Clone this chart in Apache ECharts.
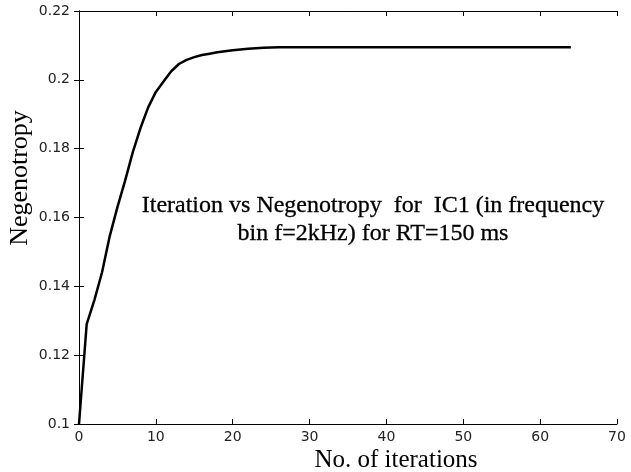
<!DOCTYPE html>
<html>
<head>
<meta charset="utf-8">
<script src="https://cdn.jsdelivr.net/npm/echarts@6/dist/echarts.min.js"></script>
<style>
  html, body { margin: 0; padding: 0; background: #fff; }
  #chart { width: 631px; height: 472px; }
</style>
</head>
<body>
<div id="chart"></div>
<script>
const iterations = [];
for (let i = 0; i <= 64; i++) iterations.push(i);

const negentropy = [
  0.1000, 0.1290, 0.1360, 0.1441, 0.1546, 0.1630, 0.1707, 0.1790, 0.1860, 0.1920,
  0.1965, 0.1995, 0.2025, 0.2046, 0.2058, 0.2066, 0.2072, 0.2076, 0.2080, 0.2083,
  0.2086, 0.2088, 0.2090, 0.2092, 0.2093, 0.2094, 0.2095, 0.2095, 0.2095, 0.2095,
  0.2095, 0.2095, 0.2095, 0.2095, 0.2095, 0.2095, 0.2095, 0.2095, 0.2095, 0.2095,
  0.2095, 0.2095, 0.2095, 0.2095, 0.2095, 0.2095, 0.2095, 0.2095, 0.2095, 0.2095,
  0.2095, 0.2095, 0.2095, 0.2095, 0.2095, 0.2095, 0.2095, 0.2095, 0.2095, 0.2095,
  0.2095, 0.2095, 0.2095, 0.2095, 0.2095
];

const annotationLines = [
  "Iteration vs Negenotropy  for  IC1 (in frequency",
  "bin f=2kHz) for RT=150 ms"
];
const xAxisTitle = "No. of iterations";
const yAxisTitle = "Negenotropy";

const tickFont = { color: "#222", fontFamily: "DejaVu Sans", fontSize: 14 };
const serif = "Liberation Serif";

const chart = echarts.init(document.getElementById("chart"), null, { renderer: "canvas" });

const axisLineStyle = { show: true, lineStyle: { color: "#000", width: 1 } };
const tickStyle = { show: true, inside: true, length: 5, lineStyle: { color: "#000" } };

chart.setOption({
  backgroundColor: "#fff",
  animation: false,
  grid: { left: 79, right: 14, top: 11, bottom: 48, outerBoundsMode: "none", containLabel: false },
  xAxis: [
    {
      type: "value",
      min: 0,
      max: 70,
      interval: 10,
      axisLine: axisLineStyle,
      axisTick: tickStyle,
      axisLabel: { ...tickFont, margin: 6 },
      splitLine: { show: false }
    },
    {
      type: "value",
      position: "top",
      min: 0,
      max: 70,
      interval: 10,
      axisLine: axisLineStyle,
      axisTick: tickStyle,
      axisLabel: { show: false },
      splitLine: { show: false }
    }
  ],
  yAxis: [
    {
      type: "value",
      min: 0.1,
      max: 0.22,
      interval: 0.02,
      axisLine: axisLineStyle,
      axisTick: tickStyle,
      axisLabel: {
        ...tickFont,
        margin: 9,
        formatter: (v) => String(parseFloat(v.toFixed(2)))
      },
      splitLine: { show: false }
    },
    {
      type: "value",
      position: "right",
      min: 0.1,
      max: 0.22,
      interval: 0.02,
      axisLine: axisLineStyle,
      axisTick: tickStyle,
      axisLabel: { show: false },
      splitLine: { show: false }
    }
  ],
  graphic: [
    {
      type: "text",
      x: 373,
      y: 192,
      style: {
        text: annotationLines.join("\n"),
        textAlign: "center",
        fontFamily: serif,
        fontSize: 24,
        lineHeight: 28,
        fill: "#000",
        stroke: "#000",
        lineWidth: 0.3
      }
    },
    {
      type: "text",
      x: 396,
      y: 460,
      style: {
        text: xAxisTitle,
        textAlign: "center",
        textVerticalAlign: "middle",
        fontFamily: serif,
        fontSize: 25,
        fill: "#000"
      }
    },
    {
      type: "text",
      x: 20,
      y: 178,
      rotation: Math.PI / 2,
      style: {
        text: yAxisTitle,
        textAlign: "center",
        textVerticalAlign: "middle",
        fontFamily: serif,
        fontSize: 26,
        fill: "#000"
      }
    }
  ],
  series: [
    {
      type: "line",
      data: iterations.map((x, i) => [x, negentropy[i]]),
      showSymbol: false,
      symbol: "none",
      lineStyle: { color: "#000", width: 2.5 },
      clip: true
    }
  ]
});
</script>
</body>
</html>
